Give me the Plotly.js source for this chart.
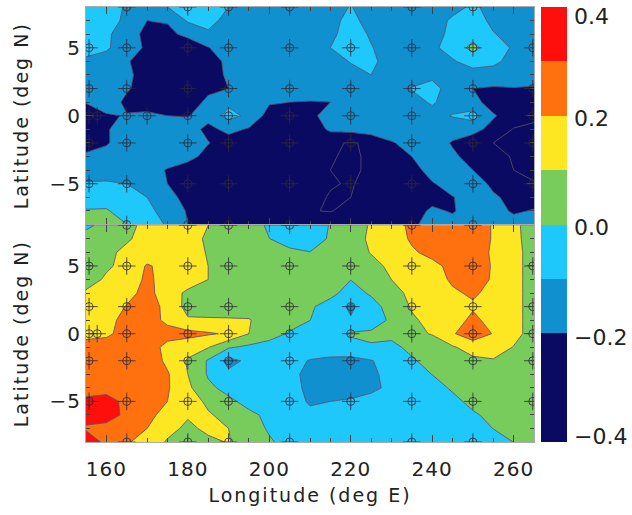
<!DOCTYPE html>
<html><head><meta charset="utf-8">
<script src="https://cdn.plot.ly/plotly-3.0.1.min.js"></script>
<style>html,body{margin:0;padding:0;background:#fff}
#chart .xtick text,#chart .ytick text,#chart .x2tick text,#chart .y2tick text{letter-spacing:1px}
#chart .xtitle,#chart .x2title,#chart .ytitle,#chart .y2title{letter-spacing:2px}
</style></head>
<body><div id="chart" style="width:632px;height:515px"></div>
<script>
const lons=[155,160,165,170,175,180,185,190,195,200,205,210,215,220,225,230,235,240,245,250,255,260,265];
const lats=[8,7,6,5,4,3,2,1,0,-1,-2,-3,-4,-5,-6,-7,-8];
const zTop=[
[-.05,-.06,-.11,-.13,-.10,-.05,-.05,-.10,-.13,-.14,-.14,-.14,-.14,-.095,-.15,-.15,-.15,-.14,-.12,-.09,-.12,-.15,-.15],
[-.05,-.06,-.12,-.20,-.19,-.09,-.08,-.12,-.14,-.14,-.14,-.14,-.13,-.07,-.14,-.15,-.15,-.13,-.09,-.06,-.12,-.14,-.15],
[-.05,-.09,-.13,-.24,-.23,-.17,-.11,-.13,-.14,-.14,-.14,-.14,-.12,-.06,-.11,-.15,-.15,-.13,-.08,-.04,-.095,-.13,-.15],
[-.06,-.09,-.14,-.22,-.26,-.28,-.205,-.14,-.14,-.14,-.14,-.14,-.10,-.06,-.095,-.14,-.15,-.12,-.06,.03,-.06,-.11,-.15],
[-.12,-.13,-.19,-.25,-.28,-.28,-.24,-.18,-.15,-.14,-.14,-.14,-.14,-.095,-.08,-.14,-.15,-.13,-.11,-.06,-.08,-.13,-.15],
[-.14,-.15,-.18,-.24,-.28,-.28,-.26,-.18,-.15,-.14,-.14,-.14,-.14,-.13,-.10,-.13,-.14,-.12,-.14,-.14,-.14,-.14,-.15],
[-.13,-.14,-.19,-.24,-.28,-.28,-.23,-.20,-.14,-.14,-.14,-.14,-.14,-.13,-.13,-.12,-.095,-.07,-.14,-.20,-.21,-.205,-.21],
[-.19,-.15,-.22,-.27,-.28,-.27,-.17,-.12,-.14,-.19,-.20,-.205,-.20,-.14,-.13,-.13,-.13,-.09,-.14,-.17,-.24,-.26,-.27],
[-.30,-.21,-.195,-.17,-.20,-.205,-.16,-.07,-.12,-.24,-.27,-.23,-.15,-.15,-.14,-.14,-.14,-.13,-.095,-.06,-.19,-.25,-.28],
[-.30,-.21,-.15,-.14,-.14,-.15,-.23,-.17,-.21,-.27,-.28,-.27,-.18,-.17,-.14,-.13,-.14,-.14,-.15,-.17,-.23,-.305,-.32],
[-.27,-.21,-.15,-.14,-.14,-.14,-.195,-.25,-.27,-.28,-.28,-.28,-.29,-.305,-.29,-.21,-.16,-.14,-.21,-.25,-.30,-.32,-.33],
[-.17,-.16,-.14,-.14,-.13,-.16,-.24,-.27,-.28,-.29,-.29,-.29,-.295,-.31,-.29,-.27,-.20,-.14,-.18,-.24,-.28,-.305,-.33],
[-.15,-.14,-.13,-.14,-.21,-.26,-.27,-.28,-.28,-.29,-.29,-.29,-.30,-.31,-.29,-.28,-.25,-.15,-.14,-.20,-.26,-.30,-.32],
[-.09,-.09,-.10,-.12,-.20,-.26,-.28,-.28,-.29,-.29,-.29,-.29,-.295,-.305,-.28,-.27,-.26,-.21,-.15,-.13,-.23,-.28,-.295],
[-.07,-.05,-.07,-.10,-.16,-.24,-.27,-.28,-.28,-.28,-.28,-.28,-.305,-.30,-.26,-.26,-.25,-.24,-.205,-.15,-.18,-.24,-.26],
[.01,.01,-.05,-.08,-.13,-.21,-.26,-.27,-.28,-.28,-.28,-.295,-.305,-.27,-.25,-.25,-.25,-.18,-.21,-.15,-.14,-.22,-.19],
[.03,.02,.001,-.05,-.11,-.20,-.24,-.26,-.27,-.27,-.27,-.25,-.23,-.22,-.21,-.22,-.21,-.18,-.16,-.20,-.14,-.14,-.14]
];
const zBottom=[
[-.02,.03,.08,.12,.14,.15,.10,.07,.03,-.01,-.04,-.05,.005,.05,.11,.16,.22,.26,.27,.27,.19,.12,.06],
[.04,.07,.09,.13,.15,.15,.08,.06,.03,.001,-.02,-.04,.01,.05,.12,.16,.21,.25,.27,.27,.19,.13,.05],
[.05,.08,.12,.14,.16,.16,.09,.06,.04,.02,.01,.002,.02,.05,.105,.14,.19,.22,.26,.27,.18,.14,.05],
[.05,.09,.12,.21,.17,.15,.10,.06,.05,.04,.03,.02,.03,.06,.07,.12,.15,.18,.22,.26,.19,.14,.05],
[.07,.11,.14,.22,.16,.15,.10,.07,.06,.05,.05,.04,.03,.001,.03,.10,.13,.17,.21,.24,.19,.14,.05],
[.11,.13,.17,.23,.15,.08,.07,.06,.06,.05,.05,.03,.02,-.03,.01,.07,.12,.15,.19,.21,.18,.14,.05],
[.13,.15,.205,.25,.17,.07,.06,.05,.06,.06,.06,.01,-.03,-.12,-.03,.03,.11,.14,.17,.19,.17,.14,.05],
[.15,.17,.23,.26,.17,.11,.11,.11,.105,.06,.04,.001,-.05,-.09,-.06,.02,.085,.13,.16,.22,.17,.14,.05],
[.17,.18,.24,.26,.25,.23,.21,.19,.10,.04,-.01,-.04,-.05,.01,.02,.02,.08,.105,.19,.26,.195,.14,.05],
[.24,.25,.26,.27,.16,.14,.105,.01,-.02,-.04,-.05,-.05,-.05,-.03,-.01,-.02,.02,.05,.09,.14,.16,.095,.05],
[.24,.25,.27,.26,.18,.09,-.01,-.13,-.08,-.05,-.07,-.105,-.12,-.13,-.105,-.06,-.01,.03,.05,.08,.09,.09,.05],
[.24,.26,.26,.26,.21,.10,-.01,-.08,-.05,-.05,-.07,-.13,-.14,-.14,-.13,-.05,-.03,.001,.04,.06,.07,.07,.05],
[.26,.27,.27,.26,.21,.12,.02,-.03,-.05,-.06,-.07,-.12,-.14,-.14,-.12,-.08,-.05,-.03,.01,.03,.05,.06,.05],
[.32,.33,.28,.26,.2,.15,.08,.02,-.03,-.05,-.06,-.11,-.10,-.09,-.07,-.05,-.05,-.04,-.02,.02,.05,.06,.05],
[.33,.34,.28,.24,.15,.11,.11,.07,.02,-.02,-.05,-.08,-.07,-.06,-.06,-.05,-.05,-.04,-.04,-.01,.02,.05,.05],
[.29,.27,.25,.2,.13,.08,.12,.1,.04,-.01,-.04,-.05,-.05,-.05,-.05,-.05,-.05,-.05,-.04,-.03,.001,.03,.05],
[.35,.28,.21,.16,.09,.05,.08,.105,.06,.01,-.03,-.05,-.05,-.05,-.05,-.05,-.05,-.05,-.05,-.05,-.03,.001,.04]
];
const stationLonsFull=[155.75,165,180,190,205,220,235,250,264.7];
const stationLonsEdge=[165,180,190,205,235,250];
const stationLatsFull=[5,2,0,-2,-5];
const extraBoth=[[157.75,0]];
const extraTop=[[170,0]];
const bandColors=['#0a0a62','#0a0a62','#1190cf','#1fc8fa','#78cc5c','#fde722','#ff700f','#fe0f0c'];
const barLevels=[-0.35,-0.25,-0.15,-0.05,0.05,0.15,0.25,0.35];
const levelStart=-0.4,levelEnd=0.4,levelStep=0.1;
const barTickVals=[0.382,0.196,-0.005,-0.207,-0.389];
const barTickText=['0.4','0.2','0.0','\u22120.2','\u22120.4'];
const yTitle='Latitude (deg N)', xTitle='Longitude (deg E)';

const scale=[];bandColors.forEach((c,i)=>{scale.push([i/8,c]);scale.push([(i+1)/8,c]);});
function stations(extra){
  const x=[],y=[];
  stationLonsEdge.forEach(l=>{x.push(l,l);y.push(8,-8);});
  stationLatsFull.forEach(a=>stationLonsFull.forEach(l=>{x.push(l);y.push(a);}));
  extra.forEach(p=>{x.push(p[0]);y.push(p[1]);});
  return {x,y};
}
function contour(z,xa,ya){return {type:'contour',x:lons,y:lats,z,xaxis:xa,yaxis:ya,coloraxis:'coloraxis',
  autocontour:false,contours:{start:levelStart,end:levelEnd,size:levelStep,coloring:'fill'},
  line:{color:'rgba(90,80,110,0.85)',width:1,smoothing:0},hoverinfo:'skip'};}
const markColor='rgba(45,40,55,0.8)';
function marks(p,xa,ya){return [
  {type:'scatter',mode:'markers',x:p.x,y:p.y,xaxis:xa,yaxis:ya,hoverinfo:'skip',showlegend:false,
   marker:{symbol:'cross-thin-open',size:12.5,color:markColor,line:{color:markColor,width:1}}},
  {type:'scatter',mode:'markers',x:p.x,y:p.y,xaxis:xa,yaxis:ya,hoverinfo:'skip',showlegend:false,
   marker:{symbol:'circle-open',size:8,color:markColor,line:{color:markColor,width:1}}}
];}
const font={family:'DejaVu Sans',color:'#222'};
const W=632-86-65;
const xbase={range:[155,265],tick0:160,dtick:20,ticks:'inside',ticklen:7,tickcolor:'#444',tickwidth:1,
  mirror:'ticks',showline:true,linecolor:'#aaa',showgrid:false,zeroline:false,
  minor:{dtick:5,tick0:155,ticks:'inside',ticklen:4,tickcolor:'#444',showgrid:false}};
const ybase={range:[-8,8],tick0:0,dtick:5,ticks:'inside',ticklen:7,tickcolor:'#444',tickwidth:1,
  mirror:'ticks',showline:true,linecolor:'#aaa',showgrid:false,zeroline:false,
  tickfont:{...font,size:20},
  minor:{dtick:1,tick0:0,ticks:'inside',ticklen:4,tickcolor:'#444',showgrid:false},
  title:{text:yTitle,font:{...font,size:19},standoff:17}};
const layout={width:632,height:515,margin:{l:86,r:65,t:7,b:73},paper_bgcolor:'#fff',plot_bgcolor:'#fff',showlegend:false,
  xaxis:{...xbase,anchor:'y',showticklabels:false,domain:[0,448/W]},
  yaxis:{...ybase,anchor:'x',domain:[0.5,1]},
  xaxis2:{...xbase,anchor:'y2',domain:[0,448/W],tickfont:{...font,size:20},ticklabelstandoff:9,title:{text:xTitle,font:{...font,size:19},standoff:8}},
  yaxis2:{...ybase,anchor:'x2',domain:[0,0.498]},
  xaxis3:{anchor:'y3',domain:[455/W,1],showticklabels:false,ticks:'',showgrid:false,zeroline:false,showline:false,range:[-0.5,0.5]},
  yaxis3:{anchor:'x3',domain:[0,1],side:'right',range:[-0.4,0.4],showgrid:false,zeroline:false,showline:false,
    tickmode:'array',tickvals:barTickVals,ticktext:barTickText,ticks:'',ticklabelstandoff:6,tickfont:{...font,size:22}},
  coloraxis:{cmin:-0.4,cmax:0.4,colorscale:scale,showscale:false}
};
const data=[contour(zTop,'x','y'),contour(zBottom,'x2','y2'),
  ...marks(stations(extraBoth.concat(extraTop)),'x','y'),
  ...marks(stations(extraBoth),'x2','y2'),
  {type:'heatmap',x:[0],y:barLevels,z:barLevels.map(v=>[v]),xaxis:'x3',yaxis:'y3',zmin:-0.4,zmax:0.4,colorscale:scale,showscale:false,hoverinfo:'skip'}];
Plotly.newPlot('chart',data,layout,{displayModeBar:false,staticPlot:true});
</script></body></html>
